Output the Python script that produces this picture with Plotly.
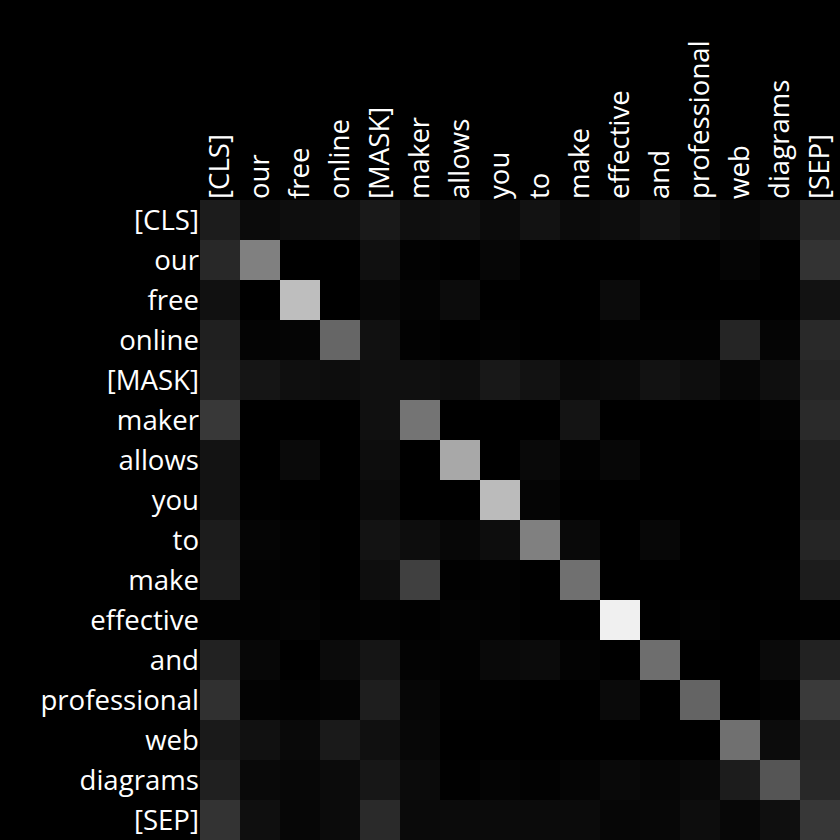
import plotly.graph_objects as go

tokens = ["[CLS]", "our", "free", "online", "[MASK]", "maker", "allows", "you",
          "to", "make", "effective", "and", "professional", "web", "diagrams", "[SEP]"]

# attention intensities (0-255 gray scale), rows = query token, cols = key token
row_cls          = [28, 11, 14, 15, 25, 15, 17, 11, 18, 11, 13, 19, 13, 9, 13, 40]
row_our          = [40, 128, 0, 0, 16, 2, 0, 6, 0, 0, 0, 0, 0, 5, 0, 51]
row_free         = [17, 0, 190, 0, 7, 4, 12, 0, 0, 0, 11, 0, 0, 0, 0, 18]
row_online       = [32, 4, 5, 102, 17, 2, 0, 2, 0, 0, 2, 2, 2, 37, 5, 41]
row_mask         = [34, 21, 15, 13, 16, 16, 14, 24, 18, 9, 11, 18, 14, 6, 15, 37]
row_maker        = [56, 0, 0, 0, 16, 116, 0, 0, 0, 20, 0, 0, 0, 0, 3, 42]
row_allows       = [19, 0, 10, 0, 13, 0, 168, 0, 9, 2, 7, 0, 0, 0, 0, 32]
row_you          = [19, 1, 0, 0, 11, 0, 0, 187, 5, 0, 0, 0, 0, 0, 0, 32]
row_to           = [28, 5, 2, 0, 19, 13, 7, 13, 128, 9, 0, 7, 0, 0, 0, 37]
row_make         = [30, 3, 2, 0, 14, 64, 1, 2, 0, 112, 0, 0, 0, 0, 1, 28]
row_effective    = [2, 2, 4, 1, 2, 1, 3, 2, 0, 0, 240, 0, 2, 0, 0, 1]
row_and          = [34, 7, 0, 11, 21, 3, 2, 9, 11, 3, 0, 110, 0, 0, 10, 34]
row_professional = [48, 3, 2, 4, 30, 6, 1, 1, 0, 0, 10, 0, 100, 0, 3, 58]
row_web          = [26, 17, 9, 26, 16, 7, 0, 0, 0, 0, 0, 0, 0, 112, 12, 38]
row_diagrams     = [32, 9, 7, 11, 23, 11, 1, 4, 2, 5, 9, 6, 9, 28, 85, 40]
row_sep          = [51, 15, 6, 11, 42, 10, 11, 11, 11, 11, 6, 7, 13, 7, 15, 55]

z = [row_cls, row_our, row_free, row_online, row_mask, row_maker, row_allows, row_you,
     row_to, row_make, row_effective, row_and, row_professional, row_web, row_diagrams, row_sep]

fig = go.Figure(go.Heatmap(
    z=z, x=tokens, y=tokens,
    colorscale=[[0, "black"], [1, "white"]],
    zmin=0, zmax=255, showscale=False, hoverinfo="skip",
))

fig.update_layout(
    width=840, height=840,
    margin=dict(l=200, r=0, t=200, b=0),
    paper_bgcolor="black", plot_bgcolor="black",
    font=dict(family="Open Sans", size=27.6, color="white"),
    xaxis=dict(side="top", tickangle=-90, showgrid=False, zeroline=False,
               ticks="", tickfont=dict(size=27.6, color="white")),
    yaxis=dict(autorange="reversed", showgrid=False, zeroline=False,
               ticks="", tickfont=dict(size=27.6, color="white")),
)

fig.write_html("out.html",
               config={"displayModeBar": False},
               post_script="document.body.style.margin='0';document.body.style.background='black';")
